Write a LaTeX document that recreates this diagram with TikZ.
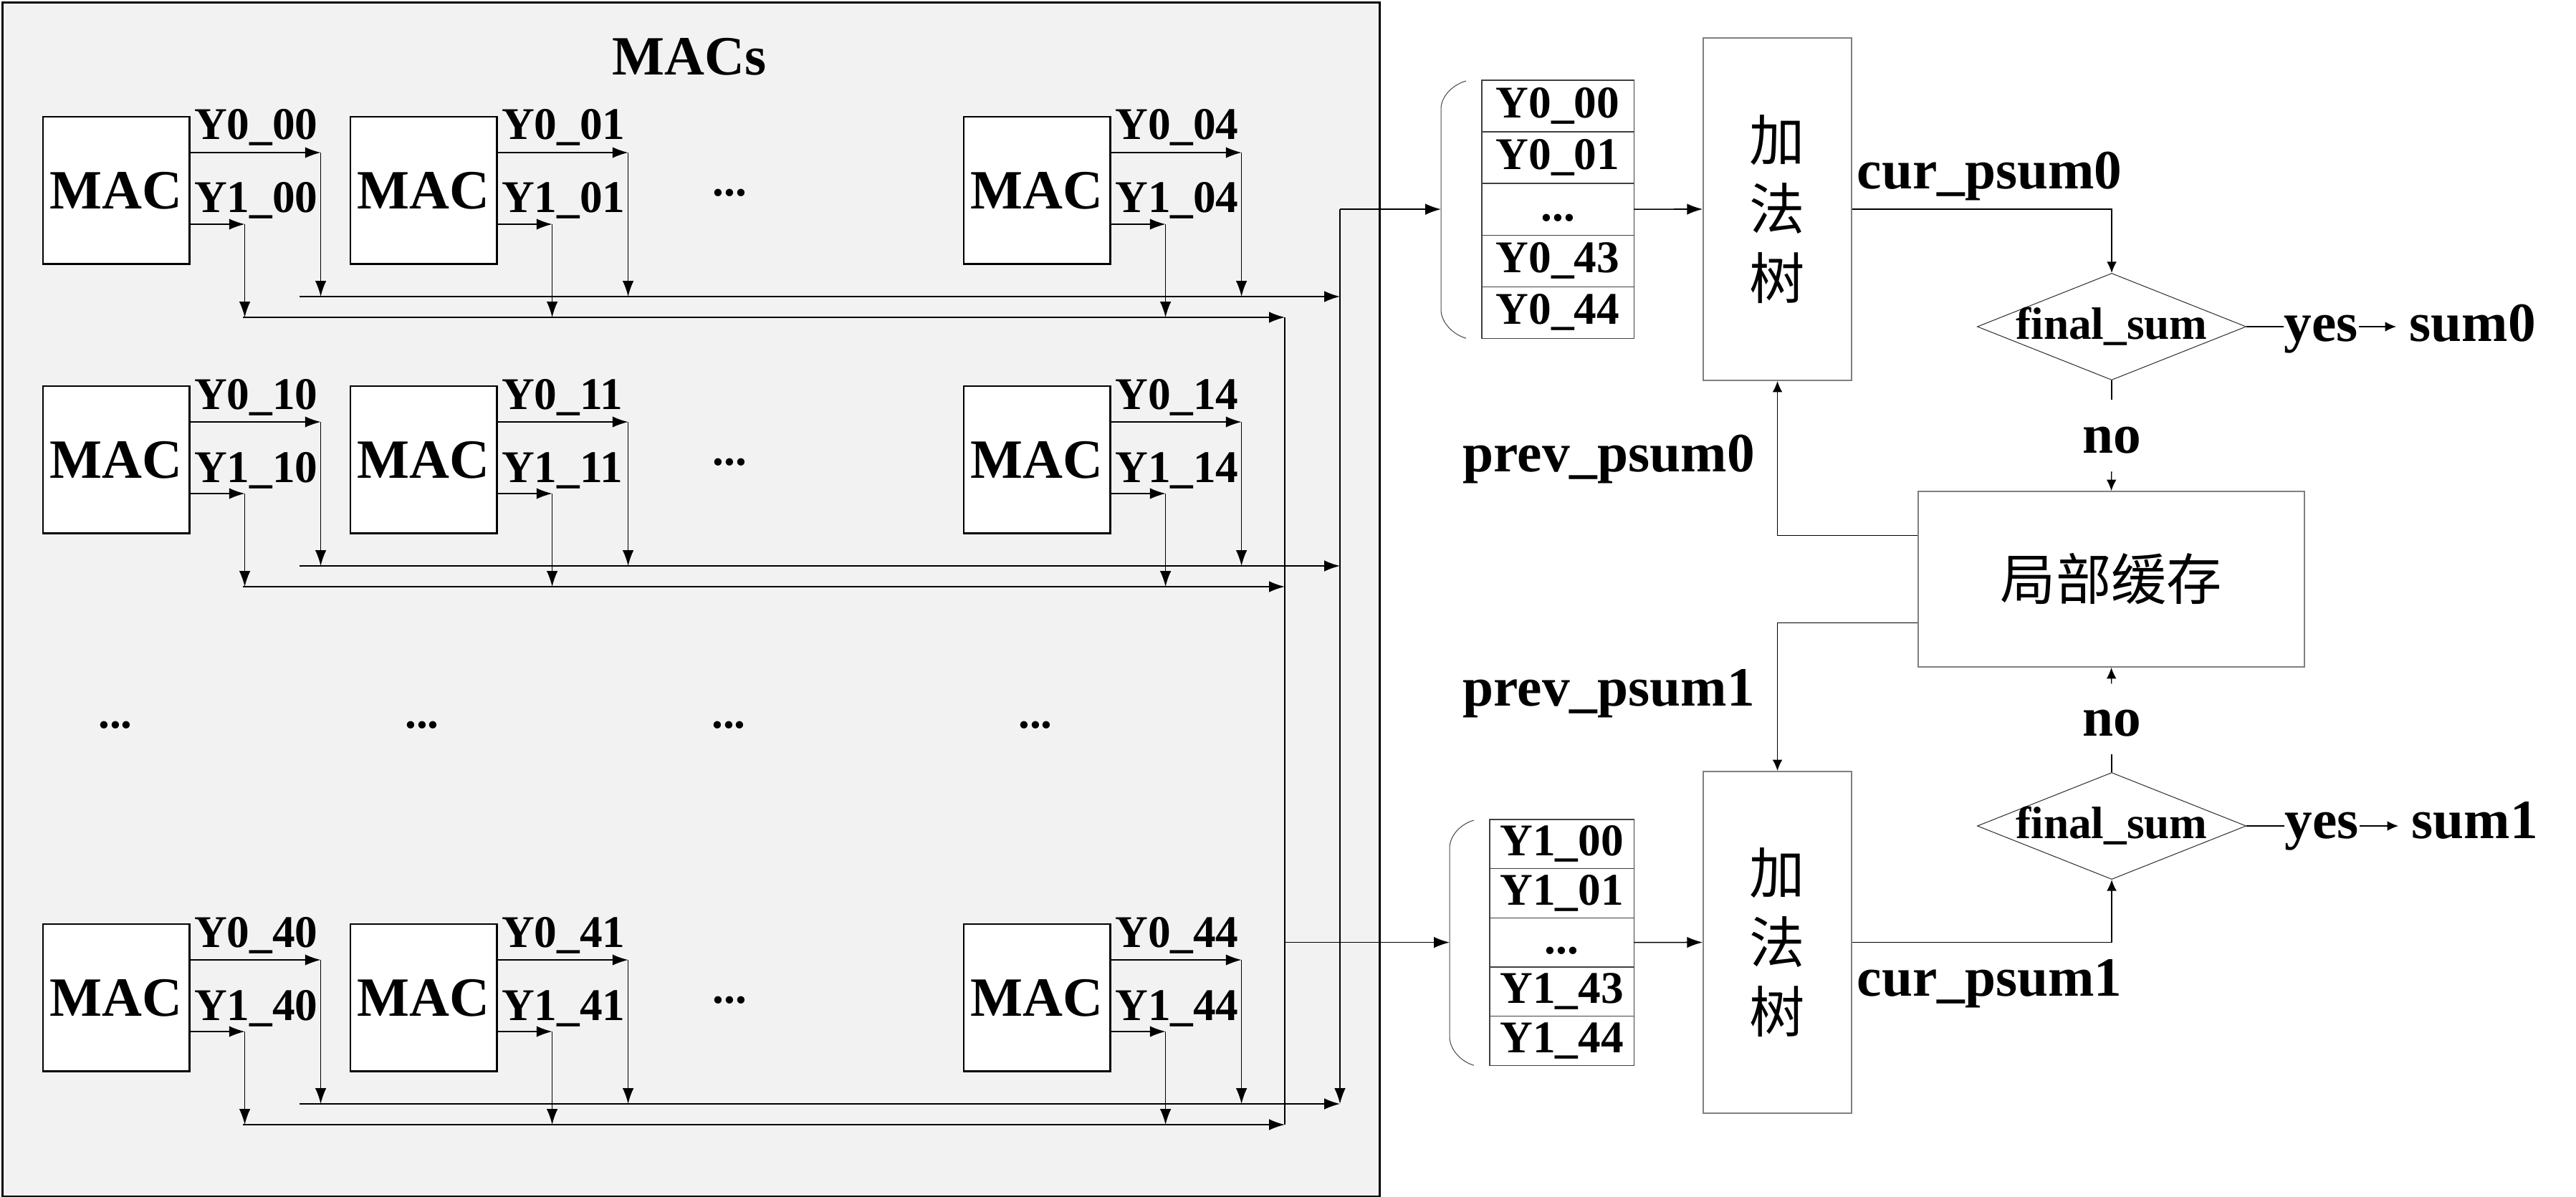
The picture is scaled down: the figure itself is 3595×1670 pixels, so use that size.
\documentclass[tikz,border=0pt]{standalone}
\usepackage{fontspec}
\setmainfont{Liberation Serif}
\newfontfamily\cjk{Noto Sans CJK SC}
\usetikzlibrary{arrows.meta,positioning,calc,shapes.geometric}
\definecolor{panel}{HTML}{F2F2F2}
\definecolor{edge}{HTML}{7F7F7F}
\newcommand{\bigf}{\bfseries\fontsize{22}{26}\selectfont}
\newcommand{\midf}{\bfseries\fontsize{18}{21}\selectfont}

\begin{document}
\begin{tikzpicture}
[x=0.01cm, y=-0.01cm,
mac/.style={draw,line width=0.7pt,fill=white,minimum width=2.04cm,minimum height=2.05cm,inner sep=0,font=\bigf},
lbl/.style={anchor=base west,inner sep=0,font=\midf},
big/.style={anchor=base west,inner sep=0,font=\bigf},
cell/.style={draw=black!75,line width=0.35pt,minimum width=2.12cm,minimum height=0.72cm,inner sep=0,outer sep=0,font=\midf},
cellb/.style={cell,minimum width=2.01cm,minimum height=0.686cm},
adder/.style={draw=edge,line width=0.45pt,fill=white,minimum width=2.07cm,minimum height=4.78cm,align=center,font=\cjk\fontsize{22}{27.5}\selectfont},
dia/.style={diamond,draw=black!80,line width=0.3pt,minimum width=3.75cm,minimum height=1.49cm,inner sep=0},
brace/.style={draw=black!70,line width=0.3pt},
wire/.style={line width=0.45pt},
arr/.style={line width=0.45pt,-{Latex[length=6.2pt,width=4.4pt]}},
arrs/.style={line width=0.4pt,-{Latex[length=4.4pt,width=3.9pt]}}]
\useasboundingbox (0,0) rectangle (3595,1670);

% MAC array panel
\node[draw,line width=0.75pt,fill=panel,minimum width=19.21cm,minimum height=16.66cm,inner sep=0,anchor=north west] (frame) at (2,2) {};
\node[big,anchor=base] (title) at (962,105) {MACs};

% partial sum registers
\node[cell,anchor=north west] (r00) at (2068,112) {Y0\_00};
\node[cell,below=0pt of r00] (r01) {Y0\_01};
\node[cell,below=0pt of r01] (r02) {\vphantom{Y\_}...};
\node[cell,below=0pt of r02] (r03) {Y0\_43};
\node[cell,below=0pt of r03] (r04) {Y0\_44};
\node[cellb,anchor=north west] (r10) at (2079,1144) {Y1\_00};
\node[cellb,below=0pt of r10] (r11) {Y1\_01};
\node[cellb,below=0pt of r11] (r12) {\vphantom{Y\_}...};
\node[cellb,below=0pt of r12] (r13) {Y1\_43};
\node[cellb,below=0pt of r13] (r14) {Y1\_44};

\draw[brace] ($(r00.north west)+(-22,1)$) .. controls +(-18,5) and +(0,-18) .. ($(r00.north west)+(-57,40)$)
  -- ($(r04.south west)+(-57,-40)$) .. controls +(0,18) and +(-18,-5) .. ($(r04.south west)+(-22,0)$);
\draw[brace] ($(r10.north west)+(-22,1)$) .. controls +(-18,5) and +(0,-18) .. ($(r10.north west)+(-56,40)$)
  -- ($(r14.south west)+(-56,-40)$) .. controls +(0,18) and +(-18,-5) .. ($(r14.south west)+(-22,0)$);
\coordinate (k0) at ($(r02.west)+(-57,0)$);
\coordinate (k1) at ($(r12.west)+(-56,0)$);
\path (k0) ++(-141,0) coordinate (c0);
\path (k1) ++(-230,0) coordinate (c1);

% MAC grid
\foreach \rn/\ry in {0/162,1/538,4/1289}{
  \coordinate (s\rn) at (418,{\ry+252});
  \coordinate (t\rn) at (339,{\ry+281});
  \foreach \cn/\cx in {0/59,1/488,4/1344}{
    \node[mac,anchor=north west] (m\rn\cn) at (\cx,\ry) {MAC};
    \coordinate (a\rn\cn) at ($(m\rn\cn.north east)+(182,51)$);
    \coordinate (b\rn\cn) at ($(m\rn\cn.north east)+(76,151)$);
    \node[lbl] (ya\rn\cn) at ($(m\rn\cn.north east)+(5,33)$) {Y0\_\rn\cn};
    \node[lbl] (yb\rn\cn) at ($(m\rn\cn.north east)+(5,135)$) {Y1\_\rn\cn};
    \draw[arr] (a\rn\cn -| m\rn\cn.east) -- (a\rn\cn);
    \draw[arr] (b\rn\cn -| m\rn\cn.east) -- (b\rn\cn);
    \draw[arr] (a\rn\cn) -- (a\rn\cn |- s\rn);
    \draw[arr] (b\rn\cn) -- (b\rn\cn |- t\rn);
  }
  \draw[arr] (s\rn) -- (s\rn -| c0);
  \draw[arr] (t\rn) -- (t\rn -| c1);
  \node[inner sep=0,font=\midf] (dt\rn) at ($(m\rn0.center)+(856,3)$) {...};
}
\foreach \k in {0,...,3}
  \node[inner sep=0,font=\midf] (dr\k) at ({161+428*\k},1012) {...};

% collectors
\draw[arr] (c0) -- (k0);
\draw[arr] (c0) -- (s4 -| c0);
\draw[wire] (t0 -| c1) -- (t4 -| c1);
\draw[arr] (c1) -- (k1);

% adder trees, buffer, checks
\node[adder] (add0) at (2480.5,292) {加\\法\\树};
\node[adder,minimum height=4.77cm] (add1) at (2480.5,1315.5) {加\\法\\树};
\node[draw=edge,line width=0.45pt,minimum width=5.39cm,minimum height=2.45cm,font=\cjk\fontsize{22}{26}\selectfont] (buf) at (2946.5,808.5) {局部缓存};
\node[dia] (d0) at (2947,456) {};
\node[dia] (d1) at (2947,1153) {};
\node[inner sep=0,font=\midf] (f0) at (d0) {final\_sum};
\node[inner sep=0,font=\midf] (f1) at (d1) {final\_sum};

\draw[arr] (r02.east) -- (add0.west);
\draw[arr] (r12.east) -- (add1.west);
\draw[arrs] (add0.east) -| (d0.north);
\draw[arrs] (add1.east) -| (d1.south);
\coordinate (p0) at ($(buf.west)+(0,-61)$);
\coordinate (p1) at ($(buf.west)+(0,61)$);
\draw[arrs] (p0) -| (add0.south);
\draw[arrs] (p1) -| (add1.north);

\node[big] (cur0) at (2591,264) {cur\_psum0};
\node[big] (cur1) at (2591,1390) {cur\_psum1};
\node[big] (prev0) at (2041,658) {prev\_psum0};
\node[big] (prev1) at (2041,985) {prev\_psum1};

\node[big,anchor=base] (no0) at (2947,632) {no};
\node[big,anchor=base] (no1) at (2947,1027) {no};
\draw[wire,shorten >=0.365cm] (d0.south) -- (no0.north);
\draw[arrs,shorten <=0.25cm] (no0.south) -- (buf.north);
\draw[arrs,shorten <=0.355cm] (no1.north) -- (buf.south);
\draw[wire,shorten >=0.25cm] (d1.north) -- (no1.south);

\node[big] (yes0) at (3187,476) {yes};
\node[big] (sum0) at (3362,476) {sum0};
\node[big] (yes1) at (3188,1170) {yes};
\node[big] (sum1) at (3365,1170) {sum1};
\draw[wire] (d0.east) -- (d0.east -| yes0.west);
\draw[wire] (d1.east) -- (d1.east -| yes1.west);
\draw[arrs,shorten >=0.18cm] (yes0.east |- d0) -- (sum0.west |- d0);
\draw[arrs,shorten >=0.18cm] (yes1.east |- d1) -- (sum1.west |- d1);
\end{tikzpicture}
\end{document}
